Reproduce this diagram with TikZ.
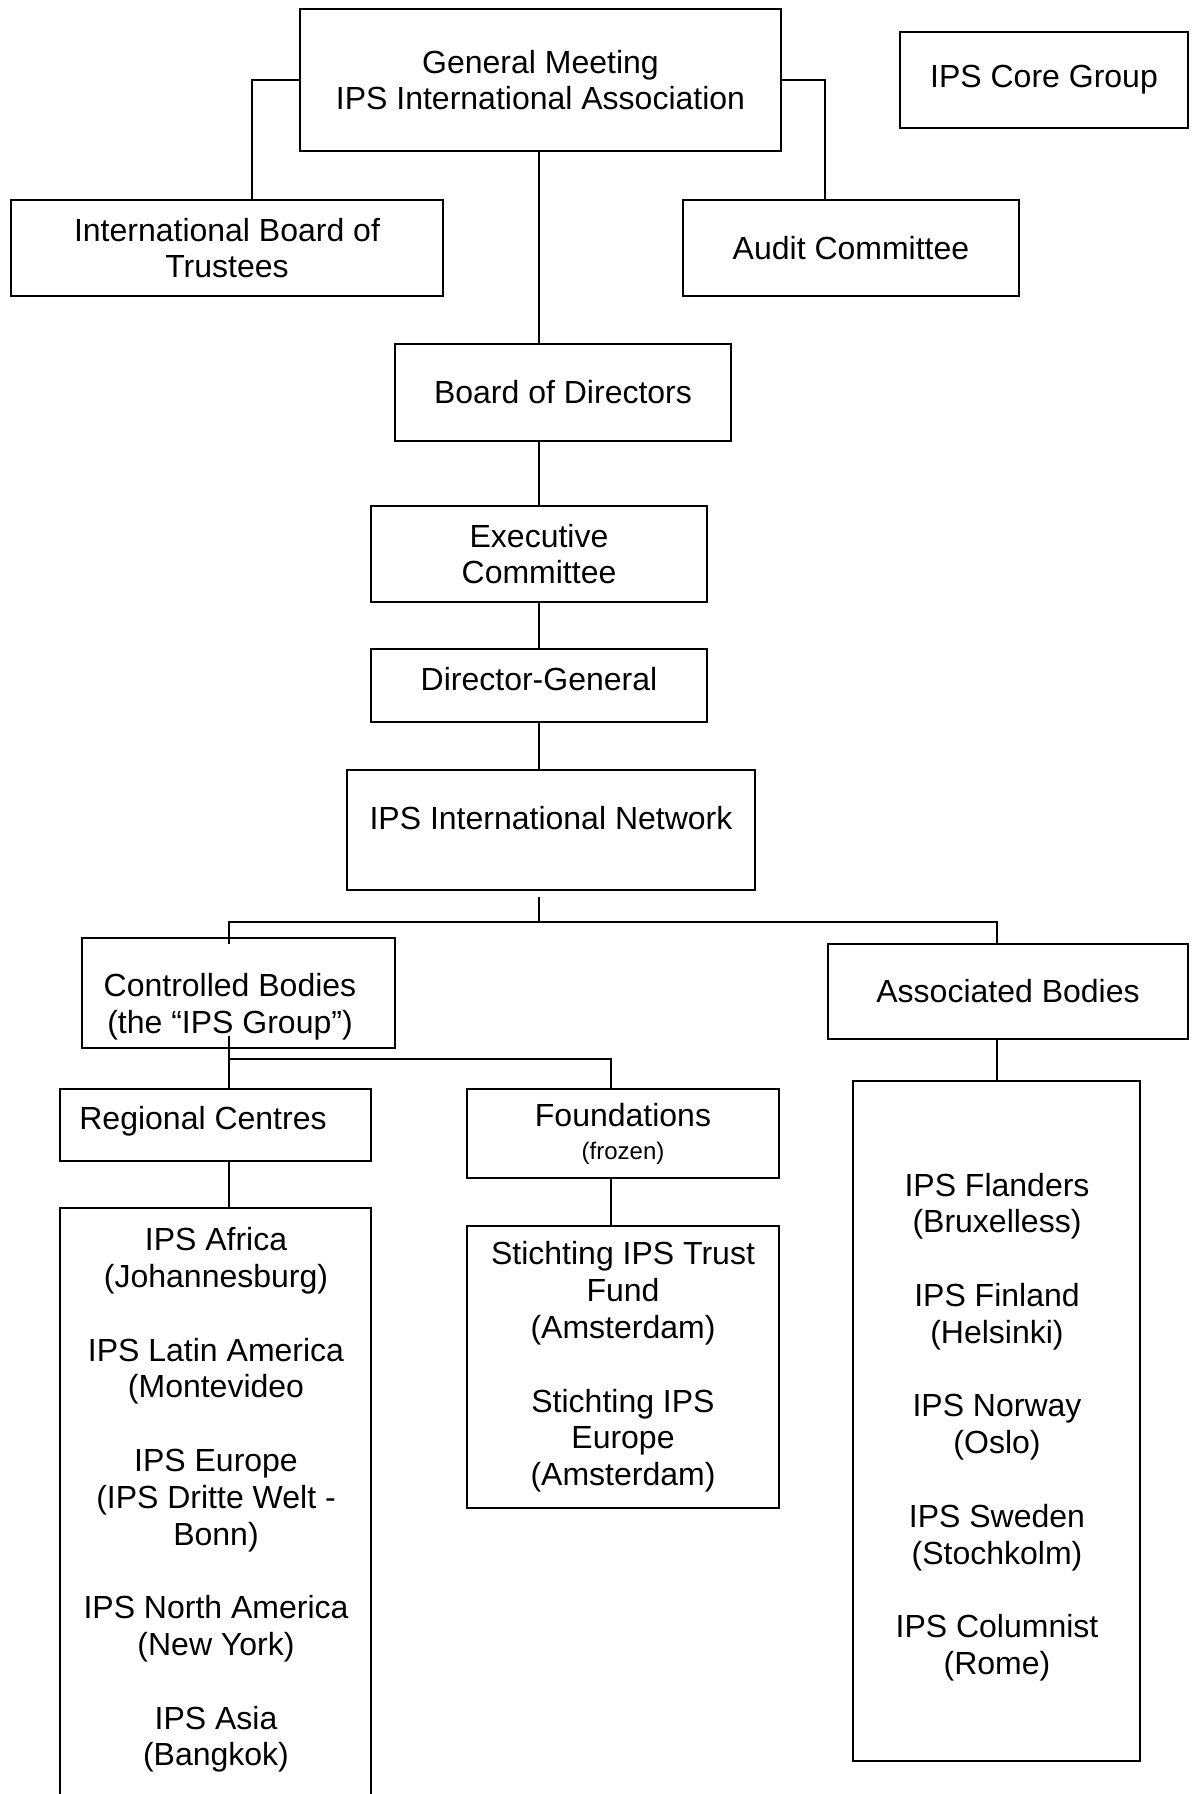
\documentclass[tikz,border=0pt]{standalone}
\usepackage{fontspec}
\setmainfont{Liberation Sans}
\usetikzlibrary{positioning, calc}

\begin{document}
\begin{tikzpicture}[x=0.5pt, y=-0.5pt,
    box/.style={rectangle, draw=black, line width=0.9pt, align=center, inner sep=0pt,
                font=\fontsize{16}{18.4}\selectfont},
    txt/.style={align=center, inner sep=0pt, font=\fontsize{16}{18.4}\selectfont},
    link/.style={line width=0.6pt}
]
    \useasboundingbox (0,0) rectangle (1195,1794);
    \clip (0,0) rectangle (1195,1794);

    % Top level
    \node[box, minimum width=240.5pt, minimum height=71pt] (gm) at (540.5,80)
        {General Meeting\\IPS International Association};
    \node[box, minimum width=144pt, minimum height=48pt] (core) at (1044,80) {IPS Core Group};
    \node[box, minimum width=216pt, minimum height=48pt] (ibt) at (227,248)
        {International Board of\\Trustees};
    \node[box, minimum width=168pt, minimum height=48pt] (audit) at (851,248) {Audit Committee};

    % Management chain
    \node[box, minimum width=168pt, minimum height=48.5pt] (bod) at (563,392.5) {Board of Directors};
    \node[box, minimum width=168pt, minimum height=48pt] (exec) at (539,554) {Executive\\Committee};
    \node[box, minimum width=168pt, minimum height=36.5pt] (dg) at (539,685.5) {};
    \node[txt] (dgtext) at (539,679) {Director-General};
    \node[box, minimum width=204pt, minimum height=60pt] (net) at (551,830) {};
    \node[txt] (nettext) at (551,818) {IPS International Network};

    % Bodies
    \node[box, minimum width=156.5pt, minimum height=55pt] (ctrl) at (238.5,993) {};
    \node[txt] (ctrltext) at (230,1007) {Controlled Bodies\\(the “IPS Group”)};
    \node[box, minimum width=180pt, minimum height=47.5pt] (assoc) at (1008,991.5) {Associated Bodies};

    \node[box, minimum width=155.5pt, minimum height=36pt] (reg) at (215.5,1125) {};
    \node[txt] (regtext) at (203,1121) {Regional Centres};
    \node[box, minimum width=156pt, minimum height=44.5pt] (fnd) at (623,1133.5)
        {Foundations\\[-2pt]{\fontsize{12}{14}\selectfont (frozen)}};

    % Lists
    \node[box, minimum width=155.5pt, minimum height=311pt] (rlist) at (215.5,1519) {};
    \node[txt, anchor=north] (rlisttext) at (216,1227)
        {IPS Africa\\(Johannesburg)\\[18.4pt]IPS Latin America\\(Montevideo\\[18.4pt]
         IPS Europe\\(IPS Dritte Welt -\\Bonn)\\[18.4pt]IPS North America\\(New York)\\[18.4pt]
         IPS Asia\\(Bangkok)};
    \node[box, minimum width=156pt, minimum height=141pt] (trust) at (623,1367)
        {Stichting IPS Trust\\Fund\\(Amsterdam)\\[18.4pt]Stichting IPS\\Europe\\(Amsterdam)};
    \node[box, minimum width=143.5pt, minimum height=340pt] (alist) at (996.5,1421) {};
    \node[txt] (alisttext) at (997,1427)
        {IPS Flanders\\(Bruxelless)\\[18.4pt]IPS Finland\\(Helsinki)\\[18.4pt]IPS Norway\\(Oslo)\\[18.4pt]
         IPS Sweden\\(Stochkolm)\\[18.4pt]IPS Columnist\\(Rome)};

    % Links at the top
    \draw[link] (gm.west) -| ($(ibt.north)+(25,0)$);
    \draw[link] (gm.east) -| ($(audit.north)+(-26,0)$);
    \draw[link] (gm.south -| exec.north) -- (exec.north |- bod.north);
    \draw[link] (exec.north |- bod.south) -- (exec.north);
    \draw[link] (exec.south) -- (dg.north);
    \draw[link] (dg.south) -- (dg.south |- net.north);

    % Network split
    \coordinate (split) at ($(dg.south |- net.south)+(0,31)$);
    \draw[link] ($(dg.south |- net.south)+(0,6)$) -- (split);
    \draw[link] ($(ctrl.north)+(-9.5,7)$) |- (split) -| ($(assoc.north)+(-11,0)$);

    % Controlled bodies split
    \coordinate (cbx) at ($(ctrl.south)+(-9.5,-13)$);
    \coordinate (split2) at ($(ctrl.south)+(-9.5,10)$);
    \draw[link] (cbx) -- (cbx |- reg.north);
    \draw[link] (split2) -| ($(fnd.north)+(-12,0)$);
    \draw[link] (cbx |- reg.south) -- (cbx |- rlist.north);
    \draw[link] ($(fnd.south)+(-12,0)$) -- ($(trust.north)+(-12,0)$);
    \draw[link] ($(assoc.south)+(-11,0)$) -- ($(alist.north)+(0.5,0)$);

\end{tikzpicture}
\end{document}
